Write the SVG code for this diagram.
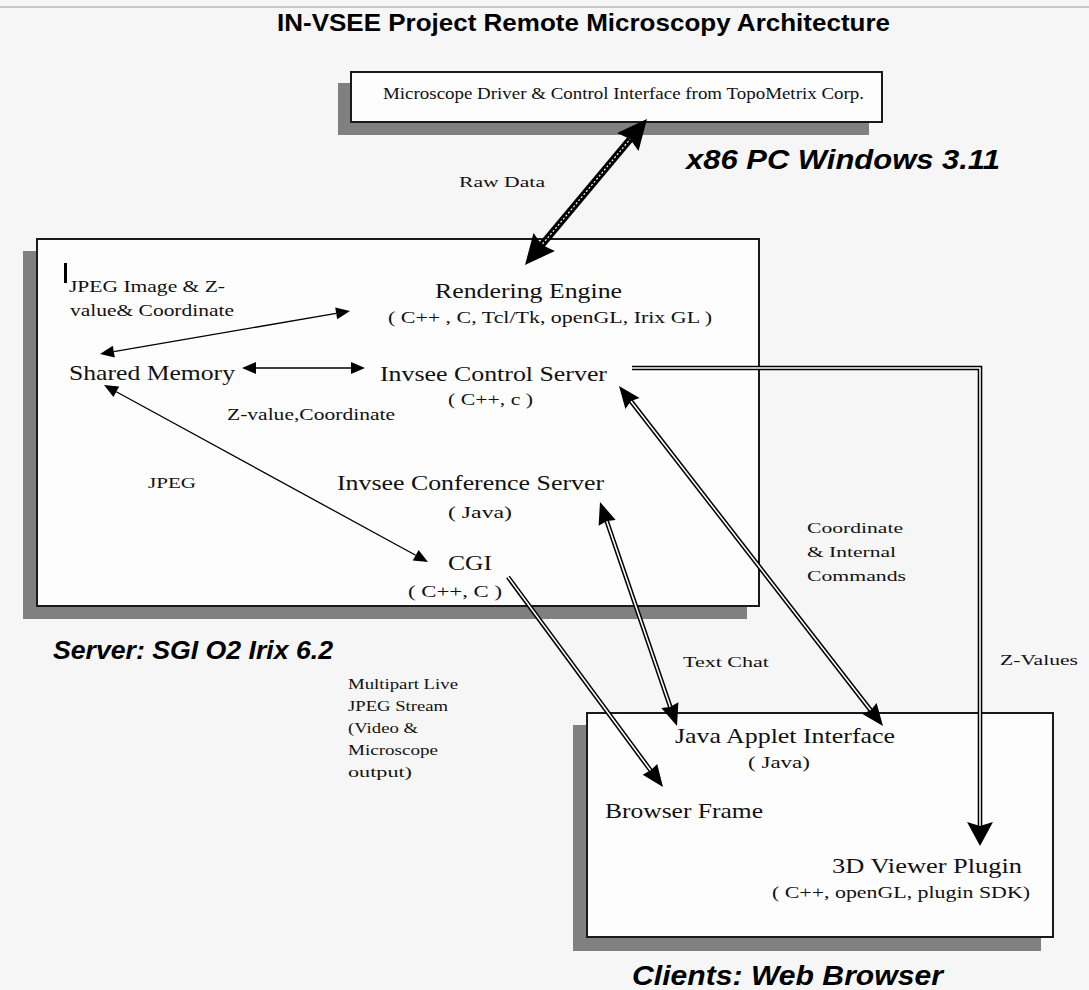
<svg xmlns="http://www.w3.org/2000/svg" width="1089" height="990" viewBox="0 0 1089 990">
<style>
.bg{fill:#f6f6f6}
.box{fill:#fdfdfd;stroke:#1a1a1a;stroke-width:2}
.shadow{fill:#808080}
.t{font-family:"Liberation Serif","Times New Roman",serif;fill:#111}
.big{font-size:21px}
.sub{font-size:16.5px}
.lbl{font-size:15.5px}
.head{font-family:"Liberation Sans",Arial,sans-serif;font-weight:bold;font-style:italic;fill:#000}
.thin{stroke:#000;stroke-width:1.3;fill:none}
.dblo{stroke:#000;stroke-width:4.6;fill:none;stroke-linejoin:miter}
.dbli{stroke:#fdfdfd;stroke-width:1.6;fill:none;stroke-linejoin:miter}
.ah{fill:#000}
</style>
<rect class="bg" x="0" y="0" width="1089" height="990"/>
<line x1="0" y1="7" x2="1089" y2="7" stroke="#c8c8c8" stroke-width="2"/>
<g id="title">
<text x="277" y="31" font-family="Liberation Sans, Arial, sans-serif" font-weight="bold" font-size="23" textLength="613" lengthAdjust="spacingAndGlyphs" fill="#000">IN-VSEE Project Remote Microscopy Architecture</text>
</g>
<g id="pc-box">
<rect class="shadow" x="338" y="83" width="531" height="52"/>
<rect class="box" x="351" y="72" width="531" height="50"/>
<text class="t" x="383" y="99" font-size="17" textLength="481" lengthAdjust="spacingAndGlyphs">Microscope Driver &amp; Control Interface from TopoMetrix Corp.</text>
<text class="head" x="686" y="169" font-size="27" textLength="314" lengthAdjust="spacingAndGlyphs">x86 PC Windows 3.11</text>
</g>
<g id="server-box">
<rect class="shadow" x="23" y="251" width="724" height="368"/>
<rect class="box" x="37" y="239" width="722" height="367"/>
<rect x="64" y="263" width="3" height="20" fill="#000"/>
<text class="head" x="53" y="659" font-size="25" textLength="280" lengthAdjust="spacingAndGlyphs">Server: SGI O2 Irix 6.2</text>
</g>
<g id="clients-box">
<rect class="shadow" x="573" y="725" width="468" height="226"/>
<rect class="box" x="587" y="713" width="466" height="224"/>
<text class="head" x="632" y="985" font-size="27" textLength="311" lengthAdjust="spacingAndGlyphs">Clients: Web Browser</text>
</g>
<g id="connectors">
<line x1="540" y1="247" x2="632" y2="137" stroke="#000" stroke-width="7"/>
<line x1="540" y1="247" x2="632" y2="137" stroke="#fff" stroke-width="1.2" stroke-dasharray="2 2"/>
<polygon class="ah" points="647,119 638.5,151 630,139 617.1,133"/>
<polygon class="ah" points="525,265 533.5,233 542,245 554.9,251"/>
<line class="thin" x1="113.8" y1="351.6" x2="336.2" y2="313.4"/>
<polygon class="ah" points="100,354 112.8,345.7 114.8,357.5"/>
<polygon class="ah" points="350,311 335.2,307.5 337.2,319.3"/>
<line class="thin" x1="256" y1="368" x2="351" y2="368"/>
<polygon class="ah" points="242,368 256,362 256,374"/>
<polygon class="ah" points="365,368 351,362 351,374"/>
<line class="thin" x1="116.3" y1="391.7" x2="415.7" y2="555.3"/>
<polygon class="ah" points="104,385 113.4,397 119.2,386.4"/>
<polygon class="ah" points="428,562 412.8,560.6 418.6,550"/>
<line class="dblo" x1="508" y1="577" x2="651" y2="771"/>
<line class="dbli" x1="508" y1="577" x2="651" y2="771"/>
<polygon class="ah" points="663,787 642.7,774.7 651,770 657.2,764"/>
<line class="dblo" x1="606" y1="519" x2="671" y2="709"/>
<line class="dbli" x1="606" y1="519" x2="671" y2="709"/>
<polygon class="ah" points="677,726 661.3,708.1 670,707 678.4,702.3"/>
<polygon class="ah" points="600,502 598.6,525.7 607,521 615.7,519.9"/>
<line class="dblo" x1="630" y1="400" x2="872" y2="712"/>
<line class="dbli" x1="630" y1="400" x2="872" y2="712"/>
<polygon class="ah" points="883,726 862.4,714.1 871,710 876.6,703.1"/>
<polygon class="ah" points="619,386 625.4,408.9 631,401 639.6,397.9"/>
<path class="dblo" d="M632,368 H980 V826"/>
<path class="dbli" d="M632,368 H980 V826"/>
<polygon class="ah" points="980,846 967,822 980,826 993,822"/>
<text class="t lbl" x="459" y="187" textLength="86" lengthAdjust="spacingAndGlyphs">Raw Data</text>
<text class="t sub" x="69" y="292" textLength="156" lengthAdjust="spacingAndGlyphs">JPEG Image &amp; Z-</text>
<text class="t sub" x="70" y="316" textLength="164" lengthAdjust="spacingAndGlyphs">value&amp; Coordinate</text>
<text class="t sub" x="227" y="420" textLength="168" lengthAdjust="spacingAndGlyphs">Z-value,Coordinate</text>
<text class="t lbl" x="148" y="488" textLength="48" lengthAdjust="spacingAndGlyphs">JPEG</text>
<text class="t lbl" x="348" y="689" textLength="110" lengthAdjust="spacingAndGlyphs">Multipart Live</text>
<text class="t lbl" x="348" y="711" textLength="100" lengthAdjust="spacingAndGlyphs">JPEG Stream</text>
<text class="t lbl" x="348" y="733" textLength="70" lengthAdjust="spacingAndGlyphs">(Video &amp;</text>
<text class="t lbl" x="348" y="755" textLength="90" lengthAdjust="spacingAndGlyphs">Microscope</text>
<text class="t lbl" x="348" y="777" textLength="64" lengthAdjust="spacingAndGlyphs">output)</text>
<text class="t lbl" x="683" y="667" textLength="86" lengthAdjust="spacingAndGlyphs">Text Chat</text>
<text class="t lbl" x="807" y="533" textLength="96" lengthAdjust="spacingAndGlyphs">Coordinate</text>
<text class="t lbl" x="807" y="557" textLength="89" lengthAdjust="spacingAndGlyphs">&amp; Internal</text>
<text class="t lbl" x="807" y="581" textLength="99" lengthAdjust="spacingAndGlyphs">Commands</text>
<text class="t lbl" x="1000" y="665" textLength="78" lengthAdjust="spacingAndGlyphs">Z-Values</text>
</g>
<g id="rendering-engine">
<text class="t big" x="435" y="298" textLength="187" lengthAdjust="spacingAndGlyphs">Rendering Engine</text>
<text class="t sub" x="388" y="323" textLength="324" lengthAdjust="spacingAndGlyphs">( C++ , C, Tcl/Tk, openGL, Irix GL )</text>
</g>
<g id="shared-memory">
<text class="t big" x="69" y="380" textLength="166" lengthAdjust="spacingAndGlyphs">Shared Memory</text>
</g>
<g id="control-server">
<text class="t big" x="380" y="381" textLength="227" lengthAdjust="spacingAndGlyphs">Invsee Control Server</text>
<text class="t sub" x="448" y="405" textLength="85" lengthAdjust="spacingAndGlyphs">( C++, c )</text>
</g>
<g id="conference-server">
<text class="t big" x="337" y="490" textLength="267" lengthAdjust="spacingAndGlyphs">Invsee Conference Server</text>
<text class="t sub" x="448" y="518" textLength="64" lengthAdjust="spacingAndGlyphs">( Java)</text>
</g>
<g id="cgi">
<text class="t big" x="448" y="570" textLength="44" lengthAdjust="spacingAndGlyphs">CGI</text>
<text class="t sub" x="408" y="597" textLength="94" lengthAdjust="spacingAndGlyphs">( C++,  C )</text>
</g>
<g id="java-applet">
<text class="t big" x="675" y="743" textLength="220" lengthAdjust="spacingAndGlyphs">Java Applet Interface</text>
<text class="t sub" x="748" y="768" textLength="62" lengthAdjust="spacingAndGlyphs">( Java)</text>
</g>
<g id="browser-frame">
<text class="t big" x="605" y="818" textLength="158" lengthAdjust="spacingAndGlyphs">Browser Frame</text>
</g>
<g id="viewer-plugin">
<text class="t big" x="832" y="873" textLength="190" lengthAdjust="spacingAndGlyphs">3D Viewer Plugin</text>
<text class="t sub" x="772" y="898" textLength="258" lengthAdjust="spacingAndGlyphs">( C++, openGL, plugin SDK)</text>
</g>
</svg>
